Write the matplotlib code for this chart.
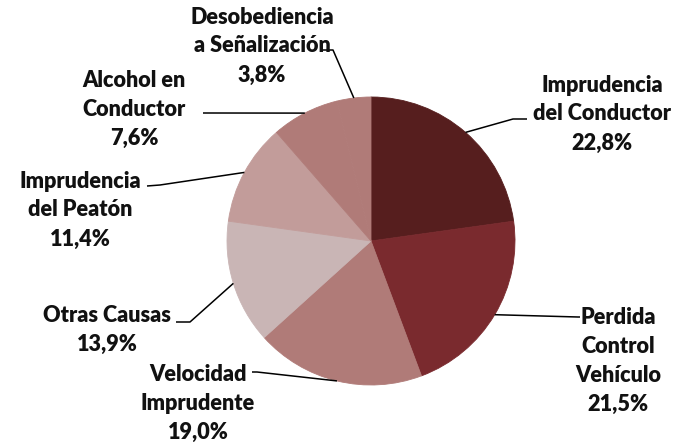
import matplotlib.pyplot as plt
import numpy as np

# causes of accidents (% share)
causes = ["Imprudencia\ndel Conductor", "Perdida\nControl\nVehículo", "Velocidad\nImprudente",
          "Otras Causas", "Imprudencia\ndel Peatón", "Alcohol en\nConductor",
          "Desobediencia\na Señalización"]
shares = [22.8, 21.5, 19.0, 13.9, 11.4, 7.6, 3.8]
pct_labels = ["22,8%", "21,5%", "19,0%", "13,9%", "11,4%", "7,6%", "3,8%"]
colors = ["#561e1e", "#7a2a2e", "#b07b78", "#c9b5b5", "#c29c9a", "#b07b78", "#b07b78"]

W, H = 683, 445
fig = plt.figure(figsize=(W / 100, H / 100), dpi=100)
ax = fig.add_axes([0, 0, 1, 1])

cx, cy, r = 371, H - 241, 144
wedges, _ = ax.pie(shares, colors=colors, startangle=90, counterclock=False,
                   center=(cx, cy), radius=r,
                   wedgeprops=dict(linewidth=0.6, edgecolor=None))
for w, c in zip(wedges, colors):
    w.set_edgecolor(c)

ax.set_xlim(0, W)
ax.set_ylim(0, H)
ax.set_aspect("auto")
ax.axis("off")

# label layout in pixel coords (y from top): elbow, line end, text centre
layout = [
    ((513, 119), (527, 119), (602, 114)),
    ((578, 317), (580, 317), (618, 361)),
    ((257, 372), (252, 372), (198, 403)),
    ((190, 322), (176, 322), (107, 330)),
    ((160, 185), (147, 186), (80, 210)),
    ((210, 113), (203, 113), (134, 109)),
    ((333, 50), (323, 50), (262, 46)),
]

for w, name, pct, (elb, end, txt) in zip(wedges, causes, pct_labels, layout):
    ang = np.deg2rad((w.theta1 + w.theta2) / 2)
    sx, sy = cx + r * np.cos(ang), cy + r * np.sin(ang)
    ax.plot([sx, elb[0], end[0]], [sy, H - elb[1], H - end[1]],
            color="black", lw=1.1, solid_capstyle="butt")
    ax.text(txt[0], H - txt[1], name + "\n" + pct, ha="center", va="center",
            multialignment="center", fontsize=15.6, fontweight="heavy",
            family="Lato", linespacing=1.47, color="#111111")

fig.savefig("out.png", dpi=100)
